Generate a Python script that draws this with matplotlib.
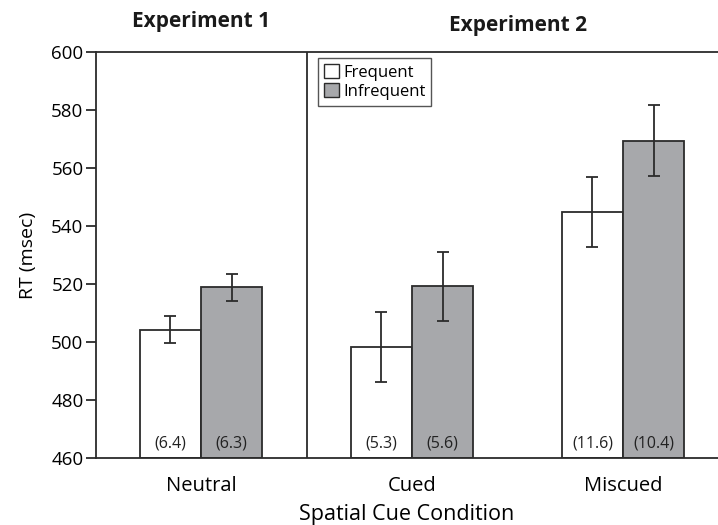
import matplotlib
matplotlib.use("Agg")
import matplotlib.pyplot as plt
from matplotlib.patches import Patch
import numpy as np

plt.rcParams['font.family'] = ['Open Sans', 'DejaVu Sans']

conditions = ["Neutral", "Cued", "Miscued"]
freq_rt = [504.2, 498.2, 544.9]
infreq_rt = [518.9, 519.2, 569.4]
freq_err = [4.7, 12.0, 12.0]
infreq_err = [4.6, 12.0, 12.2]
freq_lbl = ["(6.4)", "(5.3)", "(11.6)"]
infreq_lbl = ["(6.3)", "(5.6)", "(10.4)"]
yticks = [460, 480, 500, 520, 540, 560, 580, 600]

dark = "#2b2b2b"
grey = "#a7a8ab"

fig = plt.figure(figsize=(7.18, 5.25), dpi=100)
ax = fig.add_axes([96/718, 67/525, 1 - 96/718, (458-52)/525])

x = np.arange(len(conditions))
w = 0.29
ax.bar(x - w/2, np.array(freq_rt) - 460, w, bottom=460, color="white",
       edgecolor=dark, linewidth=1.3, zorder=2)
ax.bar(x + w/2, np.array(infreq_rt) - 460, w, bottom=460, color=grey,
       edgecolor=dark, linewidth=1.3, zorder=2)
ax.errorbar(x - w/2, freq_rt, yerr=freq_err, fmt="none", ecolor=dark,
            elinewidth=1.3, capsize=4, capthick=1.3, zorder=3)
ax.errorbar(x + w/2, infreq_rt, yerr=infreq_err, fmt="none", ecolor=dark,
            elinewidth=1.3, capsize=4, capthick=1.3, zorder=3)

for xi, l1, l2 in zip(x, freq_lbl, infreq_lbl):
    ax.text(xi - w/2, 465, l1, ha="center", va="center", fontsize=11.5, color="#222222", zorder=4)
    ax.text(xi + w/2, 465, l2, ha="center", va="center", fontsize=11.5, color="#222222", zorder=4)

ax.set_xlim(-0.498, 2.45)
ax.set_ylim(460, 600)
ax.set_yticks(yticks)
ax.set_xticks(x)
ax.set_xticklabels(conditions, fontsize=14.5)
ax.tick_params(axis="x", length=0, pad=13)
ax.tick_params(axis="y", length=7, width=1.3, color=dark, labelsize=13.5, pad=2)
for s in ["left", "top", "bottom"]:
    ax.spines[s].set_color(dark)
    ax.spines[s].set_linewidth(1.3)
ax.spines["right"].set_visible(False)

ax.axvline(0.5, color=dark, linewidth=1.3, zorder=1)

ax.set_ylabel("RT (msec)", fontsize=14, labelpad=10)
ax.set_xlabel("Spatial Cue Condition", fontsize=15.5, labelpad=6)

ax.text(0, 1.074, "Experiment 1", transform=ax.get_xaxis_transform(),
        ha="center", va="center", fontsize=15, fontweight="bold", color="#1a1a1a")
ax.text(1.5, 1.066, "Experiment 2", transform=ax.get_xaxis_transform(),
        ha="center", va="center", fontsize=15, fontweight="bold", color="#1a1a1a")

handles = [Patch(facecolor="white", edgecolor=dark, linewidth=1.0, label="Frequent"),
           Patch(facecolor=grey, edgecolor=dark, linewidth=1.0, label="Infrequent")]
leg = ax.legend(handles=handles, loc="upper left", bbox_to_anchor=(0.357, 0.985),
                fontsize=12, frameon=True, fancybox=False, handlelength=0.9,
                handleheight=0.9, handletextpad=0.25, borderpad=0.35, labelspacing=0.15,
                borderaxespad=0)
leg.get_frame().set_edgecolor(dark)
leg.get_frame().set_linewidth(1.0)

fig.savefig("out.png", dpi=100)
